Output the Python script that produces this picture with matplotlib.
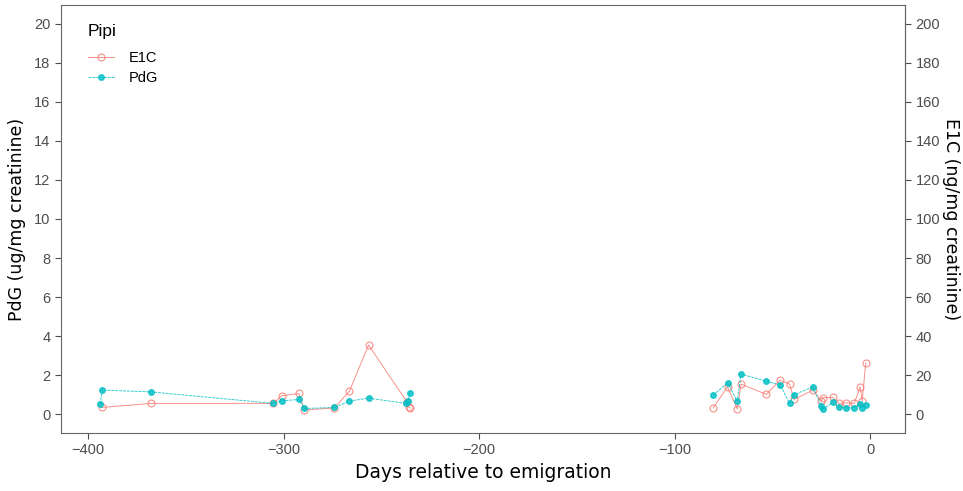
import matplotlib
matplotlib.use("Agg")
import matplotlib.pyplot as plt

# PdG (ug/mg creatinine) by days relative to emigration
pdg_days = [-393.8, -392.7, -367.9, -305.2, -301.0, -292.2, -289.3, -274.0, -266.3, -256.5,
            -237.5, -236.4, -235.2,
            -80.2, -72.9, -67.9, -66.0, -53.0, -46.0, -41.1, -38.9, -29.2, -25.0, -24.2,
            -19.0, -16.1, -12.1, -8.1, -5.0, -4.0, -2.2]
pdg_vals = [0.51, 1.23, 1.14, 0.55, 0.68, 0.75, 0.29, 0.34, 0.67, 0.82,
            0.55, 0.68, 1.09,
            0.97, 1.62, 0.67, 2.05, 1.69, 1.49, 0.55, 0.99, 1.40, 0.43, 0.24,
            0.60, 0.34, 0.32, 0.32, 0.51, 0.29, 0.46]

# E1C (ng/mg creatinine)
e1c_days = [-392.9, -367.9, -305.2, -301.0, -292.2, -289.3, -274.0, -266.3, -256.5,
            -236.9, -235.8, -235.2,
            -80.2, -72.9, -67.9, -66.0, -53.0, -46.0, -41.1, -38.9, -29.2, -25.0, -24.2,
            -19.0, -16.1, -12.1, -8.1, -5.0, -4.0, -2.2]
e1c_vals = [3.4, 5.5, 5.5, 9.4, 10.6, 2.1, 3.2, 11.8, 35.4,
            6.3, 3.4, 3.1,
            3.2, 14.0, 2.6, 15.4, 10.1, 17.4, 15.4, 7.5, 12.3, 6.7, 8.4,
            8.6, 5.5, 5.8, 5.5, 14.0, 6.8, 26.2]

RED = "#F8766D"
TEAL = "#00BFC4"
GREY = "#4D4D4D"


def split_periods(days, vals, gap=100):
	# sampling periods are drawn as separate lines
	out = [([days[0]], [vals[0]])]
	for i in range(1, len(days)):
		if days[i] - days[i - 1] > gap:
			out.append(([], []))
		out[-1][0].append(days[i])
		out[-1][1].append(vals[i])
	return out


plt.rcParams['font.family'] = ['Liberation Sans', 'DejaVu Sans']

fig = plt.figure(figsize=(9.63, 4.91), dpi=100)
ax = fig.add_axes([0.063, 0.118, 0.877, 0.872])

# E1C shares the axis at 1/10 scale (secondary axis x10)
for i, (d, v) in enumerate(split_periods(e1c_days, [x / 10 for x in e1c_vals])):
	ax.plot(d, v, color=RED, lw=0.7, alpha=0.8, marker='o', ms=5, mfc='none',
	        mec=RED, mew=0.8, label='E1C' if i == 0 else None)
for i, (d, v) in enumerate(split_periods(pdg_days, pdg_vals)):
	ax.plot(d, v, color=TEAL, lw=0.7, alpha=0.8, ls=(0, (3, 1)), marker='o', ms=4,
	        mfc=TEAL, mec=TEAL, label='PdG' if i == 0 else None)

ax.set_xlim(-414, 18)
ax.set_ylim(-0.97, 20.97)
ax.set_xticks([-400, -300, -200, -100, 0])
ax.set_yticks(range(0, 21, 2))

for s in ax.spines.values():
	s.set_color('#666666')
	s.set_linewidth(0.8)
ax.tick_params(colors=GREY, labelsize=10.5, length=4, width=0.8)

ax.set_xlabel('Days relative to emigration', fontsize=13.5, family='DejaVu Sans', labelpad=4)
ax.set_ylabel('PdG (ug/mg creatinine)', fontsize=12.5, family='DejaVu Sans', labelpad=6)

sec = ax.secondary_yaxis('right', functions=(lambda y: y * 10, lambda y: y / 10))
sec.set_yticks(range(0, 201, 20))
sec.tick_params(colors=GREY, labelsize=10.5, length=4, width=0.8)
sec.spines['right'].set_color('#666666')
sec.set_ylabel('E1C (ng/mg creatinine)', fontsize=12.5, family='DejaVu Sans',
               rotation=270, labelpad=14)

leg = ax.legend(title='Pipi', loc='upper left', frameon=False, fontsize=10.5,
                title_fontsize=12.5, bbox_to_anchor=(0.01, 1.0), handlelength=1.8,
                handletextpad=1.0, borderaxespad=0.9, labelspacing=0.4)
leg._legend_box.align = 'left'
leg._legend_box.sep = 9

fig.savefig('out.png', dpi=100)
